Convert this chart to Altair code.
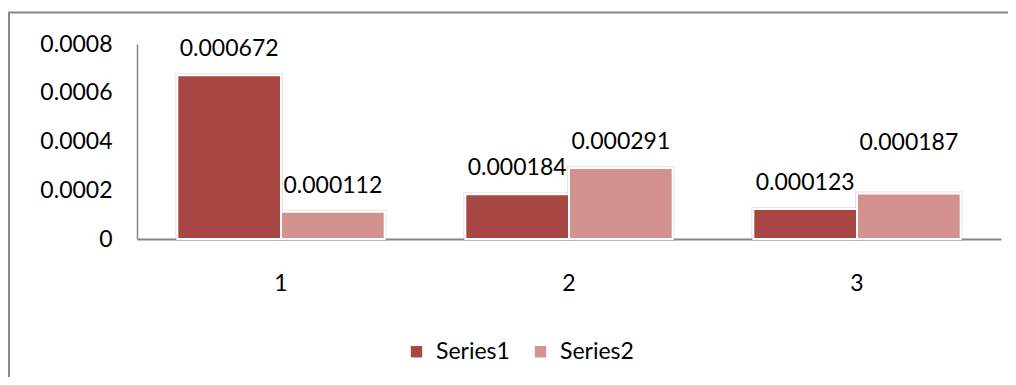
import altair as alt
import pandas as pd

categories = ["1", "2", "3"]
series_names = ["Series1", "Series2"]
series1 = [0.000672, 0.000184, 0.000123]
series2 = [0.000112, 0.000291, 0.000187]
y_ticks = [0, 0.0002, 0.0004, 0.0006, 0.0008]
colors = ["#A84644", "#D39190"]

rows = []
for c, a, b in zip(categories, series1, series2):
    rows.append({"cat": c, "series": series_names[0], "value": a, "label": f"{a:.6f}"})
    rows.append({"cat": c, "series": series_names[1], "value": b, "label": f"{b:.6f}"})
df = pd.DataFrame(rows)

FONT = "Lato"
FS = 23

x_enc = alt.X("cat:N", sort=categories,
              scale=alt.Scale(paddingInner=0.28, paddingOuter=0.14),
              axis=alt.Axis(title=None, labelAngle=0, ticks=False, labelPadding=33,
                            labelFontSize=FS, labelFont=FONT, labelColor="#000000",
                            domainColor="#868686", domainWidth=2))
xo_enc = alt.XOffset("series:N", sort=series_names, scale=alt.Scale(paddingInner=0, paddingOuter=0))
y_enc = alt.Y("value:Q", scale=alt.Scale(domain=[0, 0.0008], nice=False),
              axis=alt.Axis(title=None, values=y_ticks, ticks=False, grid=False, labelPadding=25,
                            labelFontSize=FS, labelFont=FONT, labelColor="#000000",
                            domainColor="#868686", domainWidth=1.5,
                            labelExpr="datum.value == 0 ? '0' : format(datum.value, '.4f')"))
color_enc = alt.Color("series:N", sort=series_names,
                      scale=alt.Scale(domain=series_names, range=colors),
                      legend=alt.Legend(title=None, orient="none", legendX=268, legendY=296,
                                        direction="horizontal", symbolType="square",
                                        symbolSize=130, symbolStrokeWidth=0,
                                        labelFontSize=FS, labelFont=FONT, labelColor="#000000",
                                        labelOffset=8, columnPadding=19, padding=0))

base = alt.Chart(df)

shadow = base.mark_bar(fill=None, stroke="#9a9a9a", strokeWidth=4, strokeOpacity=0.25).encode(
    x=x_enc, xOffset=xo_enc, y=y_enc)
bars = base.mark_bar(stroke="white", strokeWidth=2).encode(
    x=x_enc, xOffset=xo_enc, y=y_enc, color=color_enc)

is_moved = "datum.cat == '3' && datum.series == 'Series2'"
labels = base.transform_filter("!(" + is_moved + ")").mark_text(
    font=FONT, fontSize=FS, color="#000000", baseline="alphabetic", dy=-19).encode(
    x=x_enc, xOffset=xo_enc, y=y_enc, text="label:N")
labels_moved = base.transform_filter(is_moved).mark_text(
    font=FONT, fontSize=FS, color="#000000", baseline="alphabetic", dy=-43).encode(
    x=x_enc, xOffset=xo_enc, y=y_enc, text="label:N")

frame_df = pd.DataFrame({"k": [0]})
left_border = alt.Chart(frame_df).mark_rule(color="#888888", strokeWidth=2).encode(
    x=alt.value(-128), y=alt.value(-32), y2=alt.value(400))
top_border = alt.Chart(frame_df).mark_rule(color="#888888", strokeWidth=2).encode(
    x=alt.value(-129), x2=alt.value(880), y=alt.value(-31.5))

chart = alt.layer(left_border, top_border, shadow, bars, labels, labels_moved).properties(
    width=864, height=195,
    background="white",
    autosize=alt.AutoSizeParams(type="none"),
    padding={"left": 129, "top": 36, "right": 7, "bottom": 138},
).configure_view(stroke=None, strokeWidth=0)

chart.save("out.html", embed_options={"renderer": "svg", "actions": False})
